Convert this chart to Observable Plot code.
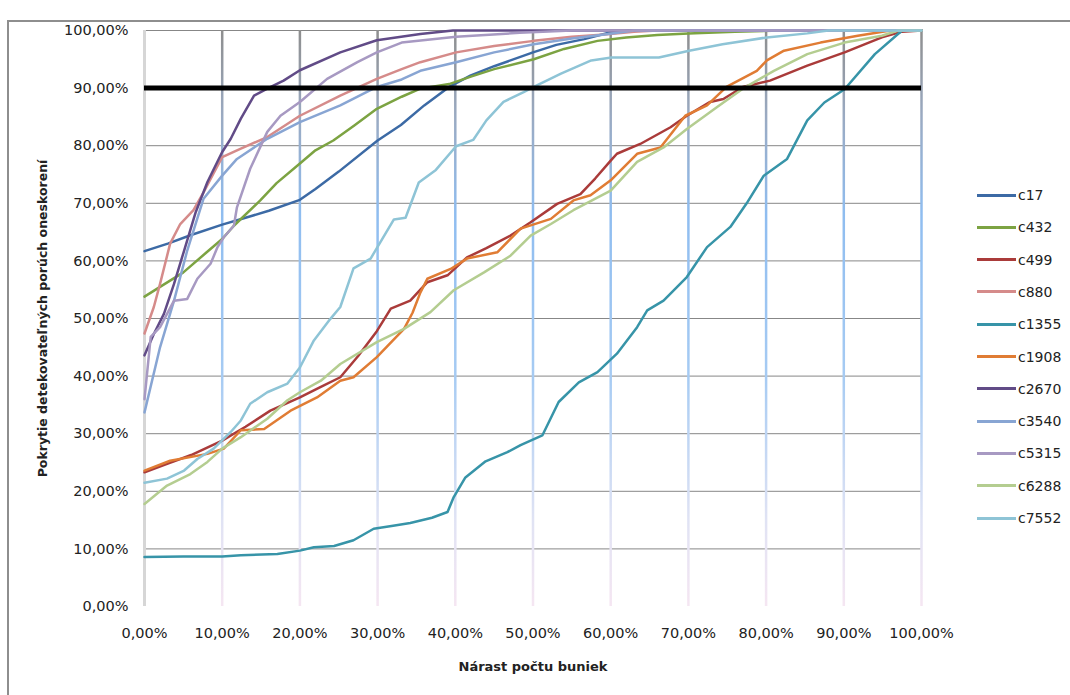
<!DOCTYPE html>
<html>
<head>
<meta charset="utf-8">
<script src="https://cdn.jsdelivr.net/npm/d3@7"></script>
<script src="https://cdn.jsdelivr.net/npm/@observablehq/plot@0.6"></script>
<style>
  html, body { margin: 0; padding: 0; background: #fff; }
  #wrap { position: relative; width: 1070px; height: 695px; overflow: hidden; font-family: "DejaVu Sans", sans-serif; }
  #frame { position: absolute; left: 7px; top: 20px; width: 1100px; height: 700px; border-left: 2px solid #8e8e8e; border-top: 2px solid #8e8e8e; box-sizing: border-box; }
  #chart { position: absolute; left: 0; top: 0; }
  .leg { position: absolute; left: 977px; height: 20px; display: flex; align-items: center; font-size: 14px; color: #222; }
  .leg span.sw { display: inline-block; width: 39px; height: 3px; margin-right: 2px; }
</style>
</head>
<body>
<div id="wrap"><div id="frame"></div><div id="chart"></div></div>
<script>
// ---- data (x = Nárast počtu buniek %, y = Pokrytie %) ----
const seriesNames = ["c17","c432","c499","c880","c1355","c1908","c2670","c3540","c5315","c6288","c7552"];
const seriesColors = ["#3c6aa5","#7ca342","#aa3b3a","#d58b8a","#3794a8","#e07c34","#614b87","#88a5d3","#a799c2","#b4cd90","#8ec4d6"];

const c17 = [[0,61.7],[3,63],[6,64.5],[10,66.3],[13,67.5],[16,68.7],[20,70.6],[22,72.5],[25,75.5],[30,80.9],[33,83.6],[36,87],[39.2,90.2],[42,92.2],[45,93.8],[50,96.2],[53,97.5],[56.6,98.5],[60,99.7],[63,100],[100,100]];
const c432 = [[0,53.8],[2,55.5],[5,58],[8,61.5],[10,63.8],[11.5,66.1],[14.9,70.5],[17,73.5],[20,76.9],[22,79.2],[24.3,80.9],[27,83.5],[29.9,86.4],[33.1,88.5],[35.5,89.9],[39.2,90.7],[42,92],[45,93.3],[50.1,95],[54,96.8],[58.3,98.2],[62,98.8],[66,99.2],[70,99.5],[76,99.8],[82,100],[100,100]];
const c499 = [[0,23.3],[3,24.8],[6,26.3],[10,28.8],[13,31.2],[16.2,34],[20,36.3],[22.5,38],[25.2,39.8],[27.5,43.5],[29.9,47.8],[31.7,51.7],[34.2,53.1],[36.4,56.3],[39,57.5],[41.5,60.6],[44,62.2],[47.1,64.4],[49.7,66.7],[53.1,69.9],[56.1,71.6],[58,74.3],[60,77.4],[60.8,78.6],[63.8,80.3],[67.7,83.2],[69.8,85.2],[72.8,87.6],[74.5,88.1],[77,90.2],[80.5,91.3],[85.3,93.9],[90.1,96.2],[94.9,98.8],[97.5,99.8],[100,100]];
const c880 = [[0,47.4],[1.2,52],[2,56],[3.3,63],[4.6,66.4],[6.3,68.8],[7.6,71.9],[9,75.5],[10,78],[12.4,79.5],[15.8,81.5],[20,85.2],[25.2,88.7],[29.9,91.6],[33.1,93.3],[35.5,94.5],[40.1,96.2],[45,97.3],[50.1,98.2],[55,98.9],[59.2,99.3],[63,99.8],[66,100],[100,100]];
const c1355 = [[0,8.6],[5,8.7],[10,8.7],[12.4,8.9],[17.1,9.1],[20,9.7],[21.8,10.3],[24.4,10.5],[26.9,11.5],[29.5,13.5],[32,14],[34.2,14.5],[37,15.4],[39,16.4],[39.8,19],[41.3,22.4],[43.9,25.2],[46.7,26.8],[48.4,28],[51.2,29.7],[53.3,35.5],[55.9,38.9],[58.3,40.7],[60.8,43.9],[63.4,48.5],[64.7,51.4],[66.8,53.1],[69.8,57.2],[72.4,62.4],[75.4,65.9],[77.5,70],[79.7,74.8],[82.7,77.7],[85.3,84.4],[87.5,87.5],[90.1,89.8],[94,95.9],[97.5,100],[100,100]];
const c1908 = [[0,23.6],[3.3,25.3],[8.1,26.5],[10.2,27.4],[12.4,30.6],[15.4,30.8],[18.8,34],[22.2,36.3],[25.2,39.2],[26.9,39.8],[29.9,43.3],[33.4,48.2],[34.5,51],[35.5,54.5],[36.4,56.9],[39.4,58.6],[41.5,60.4],[45.4,61.5],[48.4,65.6],[52.3,67.3],[55.2,70.5],[57.4,71.4],[60,74],[63.4,78.6],[66.4,79.7],[69.6,85.2],[72.4,87],[74.9,90.2],[78.8,93],[80.1,94.8],[82.3,96.5],[87,97.9],[91.8,99.1],[96,100],[100,100]];
const c2670 = [[0,43.6],[1.2,47.3],[2.5,50.8],[3.8,56],[5.1,61.8],[6.6,68.5],[8.1,73.7],[10,78.9],[11.1,81.2],[12.4,84.7],[14.1,88.7],[15.8,89.9],[17.9,91.3],[20,93.1],[25.2,96.2],[29.9,98.3],[35.5,99.4],[39.7,100],[100,100]];
const c3540 = [[0,33.7],[2,45],[3.8,53.1],[5.5,61.8],[7.6,70.8],[10,74.8],[11.9,77.7],[15.8,81.2],[20,84.1],[25.2,87],[29.9,90.2],[33.1,91.5],[35.5,93],[40.1,94.5],[45,96.2],[50.1,97.6],[55,98.6],[59.2,99.3],[63,100],[100,100]];
const c5315 = [[0,36],[0.8,46.8],[2,48.5],[3.8,53.1],[5.5,53.4],[6.8,56.9],[8.5,59.5],[9.4,62.4],[10.2,64.1],[11.5,66.1],[11.9,69.3],[13.6,76],[15.8,82.4],[17.5,85.2],[20,87.6],[23.5,91.6],[27.4,94.5],[29.9,96.2],[33.1,97.9],[40.1,98.9],[48.3,99.6],[55,100],[100,100]];
const c6288 = [[0,17.8],[2.9,21],[5.9,23],[8.1,25.1],[10,27.4],[12.4,29.4],[15.8,32.6],[18.4,35.8],[20,37.2],[22.7,39.2],[25.2,42.1],[29.9,45.9],[33.4,48.2],[36.8,51.1],[39.8,54.9],[43.7,58],[47.1,60.9],[49.7,64.4],[52.3,66.4],[55.2,68.8],[60,72.2],[63.4,77.2],[66.8,79.7],[69.8,82.9],[73.7,86.7],[77,89.9],[81,93],[85.3,95.9],[90.1,97.9],[94.9,99.1],[97,100],[100,100]];
const c7552 = [[0,21.5],[2.9,22.2],[5.1,23.6],[6.8,25.6],[8.9,27.4],[11.1,30.3],[12.4,32.3],[13.6,35.2],[15.8,37.2],[18.4,38.7],[20,41.5],[21.8,46.2],[23.9,49.9],[25.2,52],[26.9,58.7],[29.1,60.4],[29.9,62.2],[32.1,67.2],[33.6,67.5],[35.3,73.6],[37.5,75.8],[40.1,79.9],[42.3,81],[44,84.4],[46.2,87.6],[48.8,89.3],[50.1,90.2],[53.6,92.5],[57.5,94.8],[60.1,95.3],[66.2,95.3],[70.1,96.5],[74.4,97.6],[80.1,98.8],[85.3,99.5],[88,100],[100,100]];

const seriesData = [c17,c432,c499,c880,c1355,c1908,c2670,c3540,c5315,c6288,c7552];
const xTicks = [0,10,20,30,40,50,60,70,80,90,100];
const yTicks = [0,10,20,30,40,50,60,70,80,90,100];
const threshold = 90;
const xTitle = "Nárast počtu buniek";
const yTitle = "Pokrytie detekovateľných porúch oneskorení";

// ---- build table ----
const rows = [];
seriesData.forEach((pts, i) => pts.forEach(([x, y]) => rows.push({series: seriesNames[i], x, y})));

const fmt = d => d.toFixed(2).replace(".", ",") + "%";

const chart = Plot.plot({
  width: 1070,
  height: 695,
  marginLeft: 144,
  marginRight: 149,
  marginTop: 30,
  marginBottom: 89,
  style: {fontFamily: "DejaVu Sans, sans-serif", fontSize: "14px", color: "#222", background: "transparent"},
  x: {domain: [0, 100]},
  y: {domain: [0, 100]},
  color: {domain: seriesNames, range: seriesColors},
  marks: [
    Plot.ruleY(yTicks.filter(d => d > 0), {stroke: "#878787", strokeWidth: 1}),
    Plot.ruleX(xTicks.filter(d => d > 0), {stroke: "url(#vgrad)", strokeWidth: 2.5}),
    Plot.ruleX([0], {stroke: "#d6d6d6", strokeWidth: 3}),
    Plot.line(rows, {x: "x", y: "y", z: "series", stroke: "series", strokeWidth: 2.5, strokeLinejoin: "round"}),
    Plot.ruleY([threshold], {stroke: "#000", strokeWidth: 5}),
    Plot.axisY({ticks: yTicks, tickFormat: fmt, tickSize: 0, tickPadding: 16, label: null, fontSize: 14.5}),
    Plot.axisX({ticks: xTicks, tickFormat: fmt, tickSize: 0, tickPadding: 21, label: null, fontSize: 14.5}),
    Plot.text([xTitle], {frameAnchor: "bottom", dy: 64, fontWeight: "bold", fontSize: 13, fill: "#222"}),
    Plot.text([yTitle], {frameAnchor: "left", textAnchor: "middle", dx: -102, rotate: -90, fontWeight: "bold", fontSize: 12.5, fill: "#222"})
  ]
});

// vertical gridline gradient
const svg = d3.select(chart);
const defs = svg.insert("defs", ":first-child");
const g = defs.append("linearGradient").attr("id", "vgrad")
  .attr("gradientUnits", "userSpaceOnUse").attr("x1", 0).attr("y1", 30).attr("x2", 0).attr("y2", 606);
[[0, "#8e8e8e"], [0.15, "#9aaac2"], [0.32, "#8fbdf0"], [0.6, "#a6cbf3"], [0.85, "#e0e3f4"], [1, "#f5e6f2"]]
  .forEach(([o, c]) => g.append("stop").attr("offset", o).attr("stop-color", c));

document.getElementById("chart").appendChild(chart);

// legend
const wrap = document.getElementById("wrap");
seriesNames.forEach((name, i) => {
  const d = document.createElement("div");
  d.className = "leg";
  d.style.top = (185 + i * 32.3) + "px";
  d.innerHTML = `<span class="sw" style="background:${seriesColors[i]}"></span><span>${name}</span>`;
  wrap.appendChild(d);
});
</script>
</body>
</html>
